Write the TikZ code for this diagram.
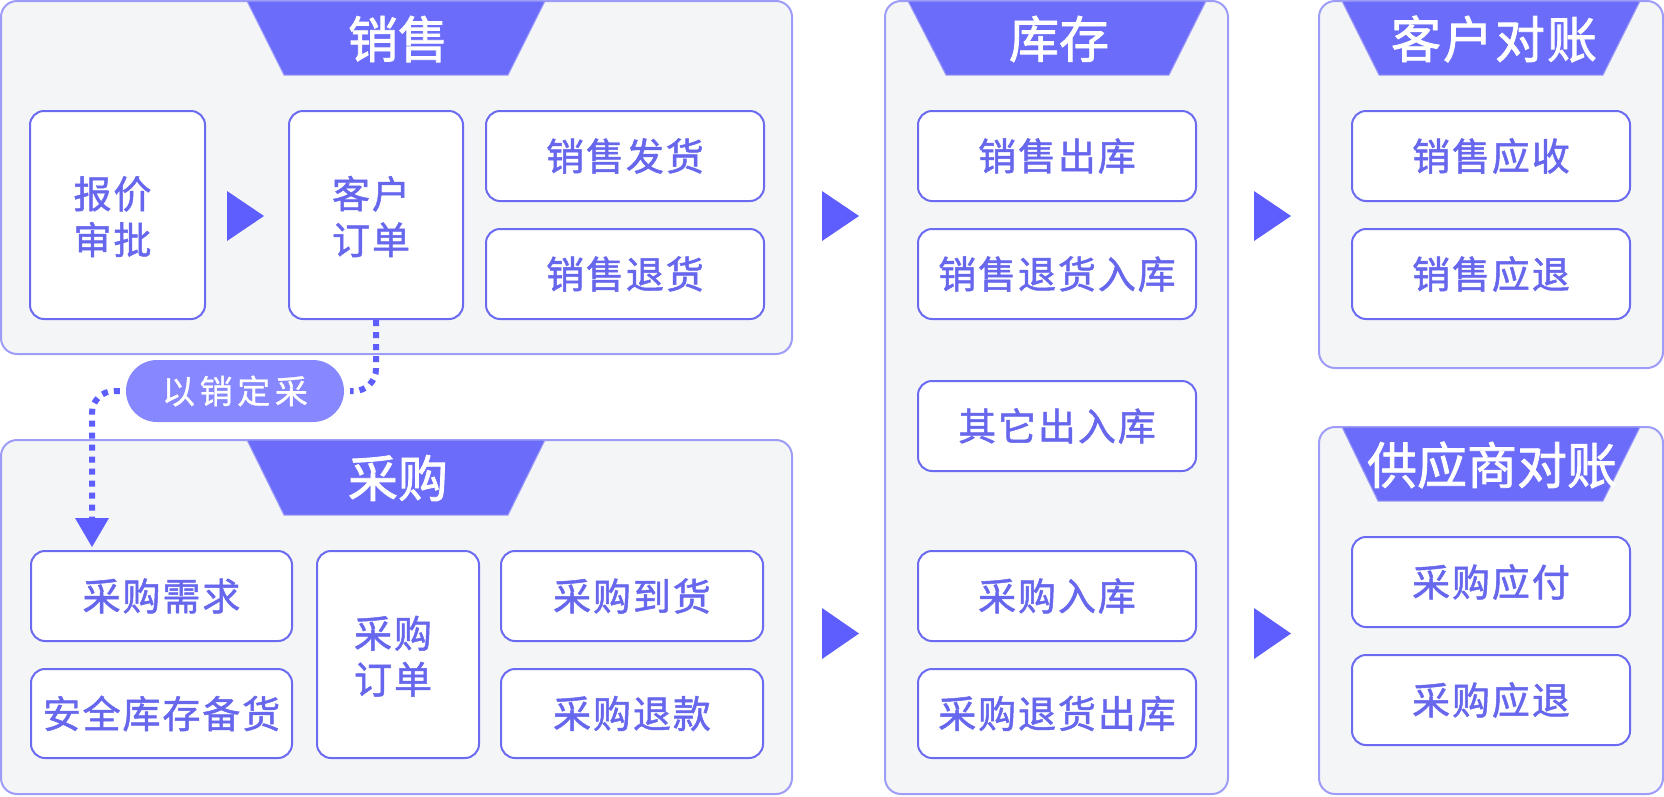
\documentclass[tikz,border=0pt]{standalone}
\usepackage{fontspec}
\setmainfont{Noto Sans CJK SC}
\newfontfamily\bodyf[LetterSpace=5,FakeBold=1.3]{Noto Sans CJK SC}
\newfontfamily\titlef[FakeBold=1.6]{Noto Sans CJK SC}
\newfontfamily\titlefw[LetterSpace=4,FakeBold=1.6]{Noto Sans CJK SC}
\newfontfamily\pillf[LetterSpace=14,FakeBold=1.0]{Noto Sans CJK SC}
\usetikzlibrary{arrows.meta}
\definecolor{panelfill}{HTML}{F4F5F7}
\definecolor{panelborder}{HTML}{9D9CF7}
\definecolor{titlefill}{HTML}{6C6CFA}
\definecolor{boxborder}{HTML}{6B6BF2}
\definecolor{textcol}{HTML}{6767EE}
\definecolor{arrowcol}{HTML}{5E5EFF}
\definecolor{pillfill}{HTML}{8787FF}
\tikzset{
  panel/.style={draw=panelborder, line width=2pt, fill=panelfill, rounded corners=16pt, inner sep=0pt},
  box/.style={draw=boxborder, line width=2pt, fill=white, rounded corners=14pt, inner sep=0pt,
    text=textcol, align=center, font=\bodyf\fontsize{38}{46}\selectfont},
  titleshape/.style={fill=titlefill, draw=panelborder, line width=1pt},
  titletext/.style={text=white, inner sep=0pt, font=\titlef\fontsize{50}{56}\selectfont},
  pillbox/.style={fill=pillfill, rounded corners=31pt, inner sep=0pt, text=white,
    font=\pillf\fontsize{33}{38}\selectfont},
  dotline/.style={draw=arrowcol, line width=6pt, dash pattern=on 6pt off 6pt, rounded corners=22pt},
  tri/.style={fill=arrowcol}
}
\newcommand\mkbox[7][box]{\node[#1, minimum width={(#5-#3)*1pt}, minimum height={(#6-#4)*1pt}] (#2) at ({(#3+#5)/2},{(#4+#6)/2}) {#7};}
\newcommand\mktri[4]{\fill[tri] (#1,#3) -- (#1,#4) -- (#2,{(#3+#4)/2}) -- cycle;}
\newcommand\twoline[2]{\raisebox{-7pt}[\height][\depth]{\begin{tabular}{@{}c@{\hspace{10pt}}}#1\\#2\end{tabular}}}
\begin{document}
\begin{tikzpicture}[x=1pt,y=-1pt]
\useasboundingbox (0,0) rectangle (1664,796);
% panels
\mkbox[panel]{psales}{1}{1}{792}{354}{}
\mkbox[panel]{ppur}{1}{440}{792}{794}{}
\mkbox[panel]{pinv}{885}{1}{1228}{794}{}
\mkbox[panel]{pcust}{1319}{1}{1663}{368}{}
\mkbox[panel]{psupp}{1319}{427}{1663}{794}{}
% titles
\path[titleshape] (247,1) -- (545,1) -- (508,75) -- (284,75) -- cycle;
\node[titletext] (tsales) at (398,39) {销售};
\path[titleshape] (247,440) -- (545,440) -- (508,515) -- (284,515) -- cycle;
\node[titletext] (tpur) at (398,478) {采购};
\path[titleshape] (908,1) -- (1206,1) -- (1169,75) -- (946,75) -- cycle;
\node[titletext] (tinv) at (1059,39) {库存};
\path[titleshape] (1342,1) -- (1640,1) -- (1603,75) -- (1379,75) -- cycle;
\node[titletext, font=\titlefw\fontsize{50}{56}\selectfont] (tcust) at (1494,39) {客户对账};
\path[titleshape] (1342,427) -- (1640,427) -- (1603,501) -- (1378,501) -- cycle;
\node[titletext] (tsupp) at (1492,465) {供应商对账};
% sales boxes
\mkbox{bj}{30}{111}{205}{319}{\twoline{报价}{审批}}
\mkbox{kh}{289}{111}{463}{319}{\twoline{客户}{订单}}
\mkbox{fh}{486}{111}{764}{201}{销售发货}
\mkbox{th}{486}{229}{764}{319}{销售退货}
% purchase boxes
\mkbox{xq}{31}{551}{292}{641}{采购需求}
\mkbox{aq}{31}{669}{292}{758}{安全库存备货}
\mkbox{dd}{317}{551}{479}{758}{\twoline{采购}{订单}}
\mkbox{dh}{501}{551}{763}{641}{采购到货}
\mkbox{tk}{501}{669}{763}{758}{采购退款}
% inventory boxes
\mkbox{ck}{918}{111}{1196}{201}{销售出库}
\mkbox{thrk}{918}{229}{1196}{319}{销售退货入库}
\mkbox{qt}{918}{381}{1196}{471}{其它出入库}
\mkbox{rk}{918}{551}{1196}{641}{采购入库}
\mkbox{thck}{918}{669}{1196}{758}{采购退货出库}
% reconciliation boxes
\mkbox{ys}{1352}{111}{1630}{201}{销售应收}
\mkbox{yt}{1352}{229}{1630}{319}{销售应退}
\mkbox{yf}{1352}{537}{1630}{627}{采购应付}
\mkbox{cyt}{1352}{655}{1630}{745}{采购应退}
% triangles
\mktri{227}{264}{191}{241}
\mktri{822}{859}{191}{241}
\mktri{822}{859}{608}{659}
\mktri{1254}{1291}{191}{241}
\mktri{1254}{1291}{608}{659}
% pill and dotted connector
\mkbox[pillbox]{pill}{126}{360}{344}{422}{以销定采}
\coordinate (tgt) at (92,547);
\draw[dotline, shorten >=6pt] (kh.south) |- (pill.east);
\draw[dotline, shorten <=6pt, shorten >=28pt] (pill.west) -| (tgt);
\fill[arrowcol] (75,518) -- (109,518) -- (tgt) -- cycle;
\end{tikzpicture}
\end{document}
